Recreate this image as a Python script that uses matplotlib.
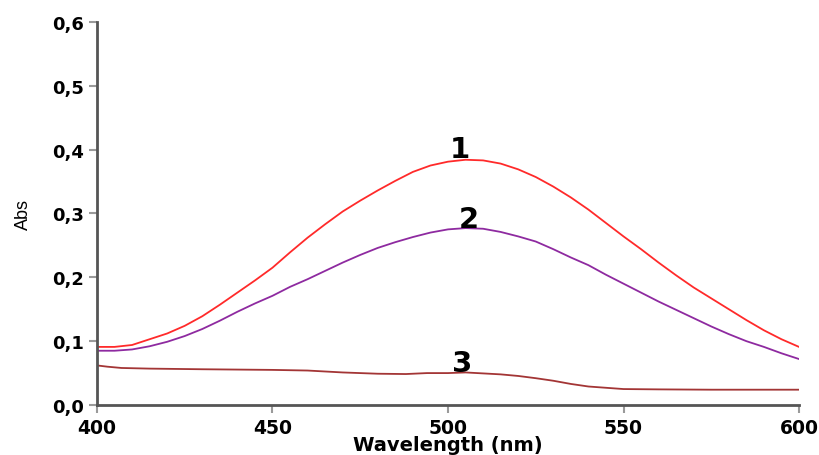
import matplotlib.pyplot as plt
from matplotlib.ticker import FuncFormatter

# wavelength (nm) and absorbance
wl = [400, 405, 410, 415, 420, 425, 430, 435, 440, 445, 450, 455, 460, 465, 470,
      475, 480, 485, 490, 495, 500, 505, 510, 515, 520, 525, 530, 535, 540, 545,
      550, 555, 560, 565, 570, 575, 580, 585, 590, 595, 600]
abs_1 = [0.091, 0.091, 0.094, 0.103, 0.112, 0.124, 0.139, 0.157, 0.176, 0.195,
         0.215, 0.239, 0.262, 0.283, 0.303, 0.320, 0.336, 0.351, 0.365, 0.375,
         0.381, 0.384, 0.383, 0.378, 0.369, 0.357, 0.342, 0.325, 0.306, 0.285,
         0.264, 0.244, 0.223, 0.203, 0.184, 0.167, 0.150, 0.133, 0.117, 0.103, 0.091]
abs_2 = [0.085, 0.085, 0.087, 0.092, 0.099, 0.108, 0.119, 0.132, 0.146, 0.159,
         0.171, 0.185, 0.197, 0.210, 0.223, 0.235, 0.246, 0.255, 0.263, 0.270,
         0.275, 0.277, 0.276, 0.271, 0.264, 0.256, 0.244, 0.231, 0.219, 0.204,
         0.190, 0.176, 0.162, 0.149, 0.136, 0.123, 0.111, 0.100, 0.091, 0.081, 0.072]

wl_3 = [400, 403, 407, 415, 430, 450, 460, 470, 480, 488, 494, 500, 505, 510, 515,
        520, 525, 530, 535, 540, 545, 550, 560, 575, 600]
abs_3 = [0.062, 0.060, 0.058, 0.057, 0.056, 0.055, 0.054, 0.051, 0.049, 0.0485,
         0.050, 0.050, 0.051, 0.0495, 0.048, 0.0455, 0.042, 0.038, 0.033, 0.029,
         0.027, 0.025, 0.0245, 0.024, 0.024]

labels = ["1", "2", "3"]
label_pos = [(503.5, 0.388), (506, 0.279), (504, 0.053)]

fig = plt.figure(figsize=(8.19, 4.56), dpi=100)
ax = fig.add_axes([0.1184, 0.1096, 0.8572, 0.8404])

ax.plot(wl, abs_1, color="#ff2a2a", lw=1.3)
ax.plot(wl, abs_2, color="#8e2aa0", lw=1.3)
ax.plot(wl_3, abs_3, color="#a33535", lw=1.3)

for lab, (x, y) in zip(labels, label_pos):
    ax.text(x, y, lab, fontsize=21, fontweight="bold", family="DejaVu Sans",
            ha="center", va="baseline", color="black")

ax.set_xlim(400, 600)
ax.set_ylim(0, 0.6)
ax.set_xticks([400, 450, 500, 550, 600])
ax.set_yticks([0, 0.1, 0.2, 0.3, 0.4, 0.5, 0.6])
ax.yaxis.set_major_formatter(FuncFormatter(lambda v, p: f"{v:.1f}".replace(".", ",")))

for s in ["top", "right"]:
    ax.spines[s].set_visible(False)
for s in ["left", "bottom"]:
    ax.spines[s].set_color("#555555")
    ax.spines[s].set_linewidth(2)

ax.tick_params(axis="both", direction="out", length=6, width=1.5, color="#9a9a9a",
               pad=3)
for t in ax.get_xticklabels():
    t.set_fontweight("bold")
    t.set_fontfamily("DejaVu Sans")
    t.set_fontsize(13.5)
for t in ax.get_yticklabels():
    t.set_fontweight("bold")
    t.set_fontfamily("DejaVu Sans")
    t.set_fontsize(13)

ax.set_xlabel("Wavelength (nm)", fontsize=14, fontweight="bold",
              family="DejaVu Sans", labelpad=-1)
ax.set_ylabel("Abs", fontsize=13, family="Liberation Sans", labelpad=15)

fig.savefig("out.png", dpi=100)
